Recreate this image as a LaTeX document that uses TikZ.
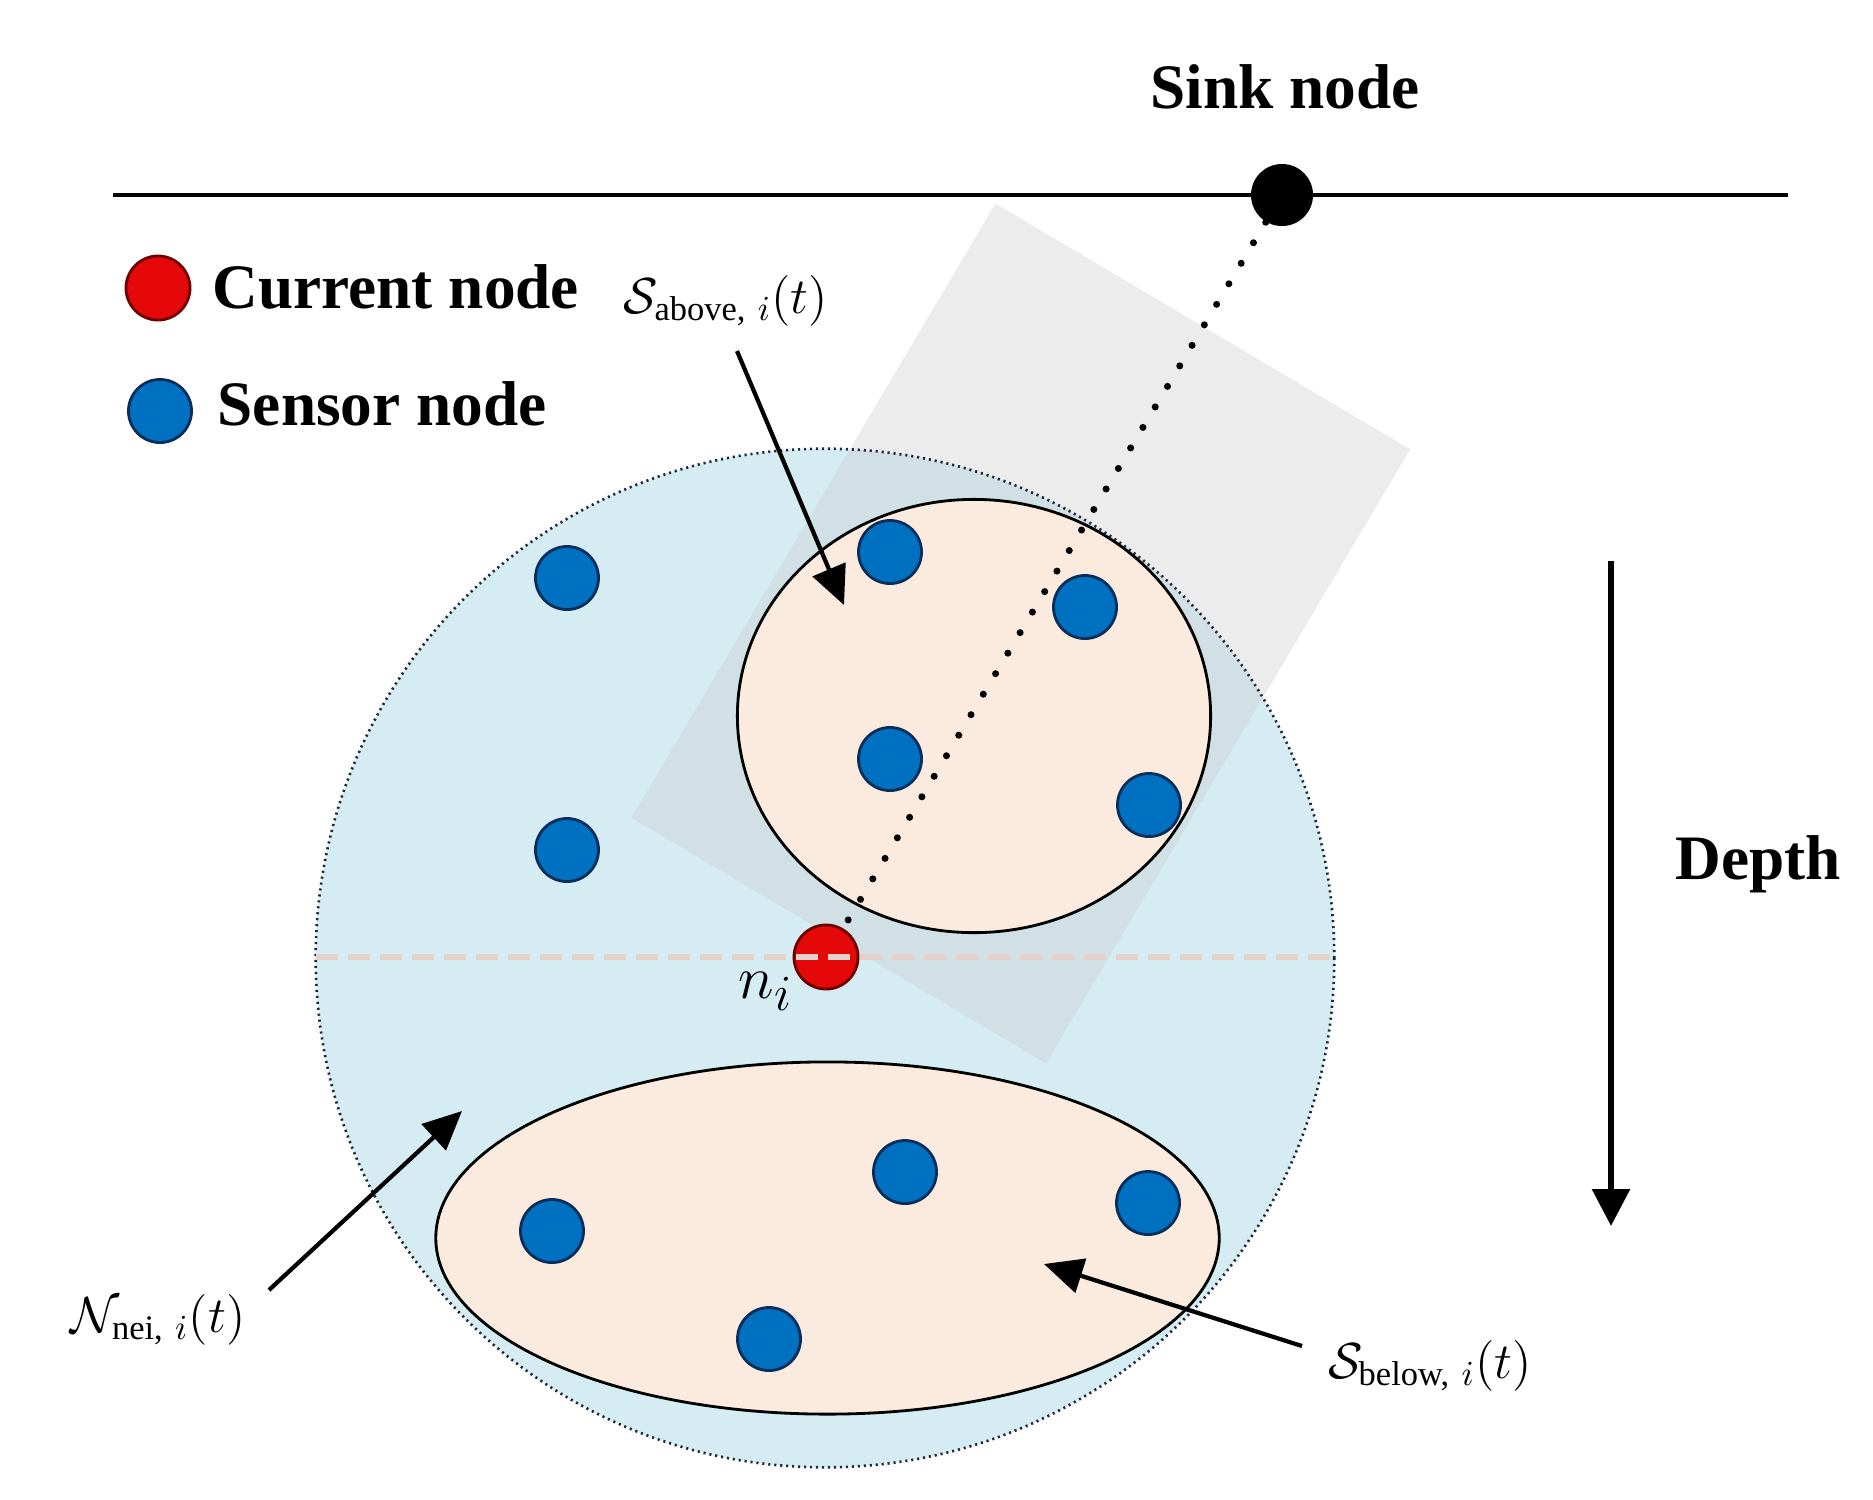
\documentclass[tikz,border=0pt]{standalone}
\usepackage{fontspec}
\setmainfont{Liberation Serif}
\usepackage{amsmath}
\usetikzlibrary{arrows.meta}
\definecolor{regionblue}{RGB}{214,236,243}
\definecolor{beige}{RGB}{251,235,222}
\definecolor{sensorblue}{RGB}{0,112,192}
\definecolor{sensoredge}{RGB}{10,45,90}
\definecolor{curred}{RGB}{228,8,8}
\definecolor{curedge}{RGB}{110,0,0}
\definecolor{planegray}{RGB}{200,200,200}
\definecolor{midline}{RGB}{228,210,202}
\definecolor{rangeedge}{RGB}{30,40,60}
\begin{document}
\begin{tikzpicture}[x=0.01cm,y=-0.01cm,
  sensor/.style={circle,fill=sensorblue,draw=sensoredge,line width=0.8pt,minimum size=6.3mm,inner sep=0pt},
  current/.style={circle,fill=curred,draw=curedge,line width=0.8pt,minimum size=6.4mm,inner sep=0pt},
  sinkdot/.style={circle,fill=black,minimum size=6.2mm,inner sep=0pt},
  boldlabel/.style={font=\fontsize{18}{20}\selectfont\bfseries,inner sep=0pt},
  mathlabel/.style={font=\fontsize{14}{16}\selectfont,inner sep=0pt},
  pointer/.style={line width=1.2pt,-{Triangle[length=11pt,width=10pt]}},
  setregion/.style={fill=beige,draw=black,line width=0.8pt},
]
\useasboundingbox (0,0) rectangle (1873,1499);
\fill[white] (0,0) rectangle (1873,1499);

% surface line and sink
\coordinate (surfL) at (113,195);
\coordinate (surfR) at (1788,195);
\draw[line width=1.2pt] (surfL) -- (surfR);
\node[sinkdot] (sink) at (1282,195) {};
\node[boldlabel, anchor=base] (sinklabel) at (1285,108) {Sink node};

% neighbour region
\fill[regionblue] (825,958) circle [radius=5.09cm];

% gray plane
\begin{scope}[shift={(1020.75,633.5)}, rotate=-30.66]
\fill[planegray, opacity=0.33] (-241,-357) rectangle (241,357);
\end{scope}

\draw[rangeedge, line width=0.75pt, dash pattern=on 0.6pt off 1.1pt] (825,958) circle [radius=5.09cm];

% set regions
\filldraw[setregion] (974,716) ellipse [x radius=2.365cm, y radius=2.165cm];
\filldraw[setregion] (827.5,1238) ellipse [x radius=3.915cm, y radius=1.76cm];

% sensor nodes
\node[sensor] (s1) at (567,578) {};
\node[sensor] (s2) at (890,552) {};
\node[sensor] (s3) at (1085,607) {};
\node[sensor] (s4) at (890,759) {};
\node[sensor] (s5) at (1149,805) {};
\node[sensor] (s6) at (567,850) {};
\node[sensor] (s7) at (905,1172) {};
\node[sensor] (s8) at (1148,1203) {};
\node[sensor] (s9) at (552,1231) {};
\node[sensor] (s10) at (769,1339) {};

% current node
\node[current] (cur) at (826,957) {};
\draw[line width=2pt, line cap=round, dash pattern=on 0pt off 6.8pt] (sink) -- (cur);

% mid depth line
\coordinate (midL) at (316,957);
\coordinate (midR) at (1334,957);
\draw[midline, line width=1.5pt, dash pattern=on 6.3pt off 2.8pt] (midL) -- (midR);

\node[font=\fontsize{19}{21}\selectfont, inner sep=0pt, anchor=base] (nilabel) at (766,998) {$n_i$};

% labels and pointers
\node[mathlabel, anchor=base] (abovelabel) at (726,313) {$\mathcal{S}_{\text{above,}\ i}(t)$};
\coordinate (aboveStart) at (737,351);
\coordinate (aboveTip) at (844,605);
\draw[pointer] (aboveStart) -- (aboveTip);

\node[mathlabel, anchor=base] (neilabel) at (158,1332) {$\mathcal{N}_{\text{nei,}\ i}(t)$};
\coordinate (neiStart) at (269,1290);
\coordinate (neiTip) at (462,1111);
\draw[pointer] (neiStart) -- (neiTip);

\node[mathlabel, anchor=base] (belowlabel) at (1430,1378) {$\mathcal{S}_{\text{below,}\ i}(t)$};
\coordinate (belowStart) at (1302,1346);
\coordinate (belowTip) at (1044,1264);
\draw[pointer] (belowStart) -- (belowTip);

% depth arrow
\coordinate (depthTop) at (1611,561);
\coordinate (depthTip) at (1611,1226);
\draw[line width=1.7pt, -{Triangle[length=10.5pt,width=10.5pt]}] (depthTop) -- (depthTip);
\node[boldlabel, anchor=base west] (depthlabel) at (1675,879) {Depth};

% legend
\node[current] (legcur) at (158,288) {};
\node[boldlabel, anchor=base west] (legcurtext) at (212,308) {Current node};
\node[sensor] (legsen) at (160,411) {};
\node[boldlabel, anchor=base west] (legsentext) at (217,425) {Sensor node};
\end{tikzpicture}
\end{document}
